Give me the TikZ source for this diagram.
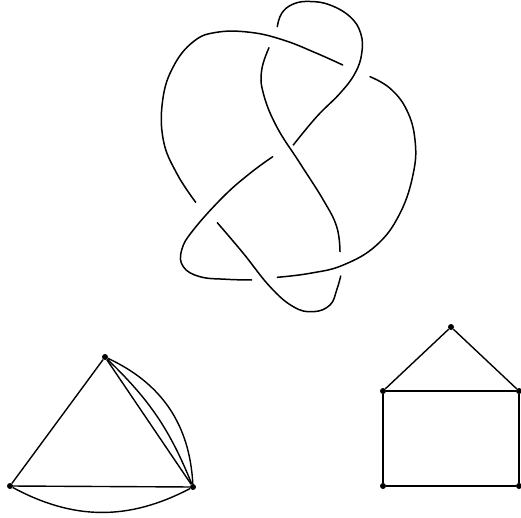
\documentclass[tikz,border=0pt]{standalone}
\begin{document}
\begin{tikzpicture}[x=1pt,y=-1pt,
  strand/.style={line width=1.5pt,line cap=round},
  vtx/.style={circle,fill=black,inner sep=0pt,minimum size=6pt},
  edge/.style={line width=1.4pt}]
\useasboundingbox (0,0) rectangle (521,518);
% knot
\draw[strand] plot[smooth,tension=0.7] coordinates {(277.3,26.7) (281.7,13.3) (293.3,4) (310,1.5) (330,5) (350,16.7) (360.7,33.3) (361.7,53.3) (355,73.3) (340,93.3) (316.7,116.7) (293.3,145)};
\draw[strand] plot[smooth,tension=0.7] coordinates {(272.7,156.7) (250,173.3) (223.3,196.7) (193.3,230) (181.7,250) (183.3,266.7) (200,276.7) (226.7,279.3) (251.7,280)};
\draw[strand] plot[smooth,tension=0.7] coordinates {(277.3,277.3) (310,273.3) (343.3,265) (376.7,245) (400,213.3) (413.3,173.3) (415,140) (406.7,110) (390,88.3) (370,76.7)};
\draw[strand] plot[smooth,tension=0.7] coordinates {(342.7,65) (316.7,53.3) (283.3,40) (250,32.3) (216.7,32.3) (193.3,41.7) (173.3,66.7) (162.7,100) (163.3,140) (176.7,173.3) (195.7,202.3)};
\draw[strand] plot[smooth,tension=0.7] coordinates {(217.3,222.7) (243.3,253.3) (270,286.7) (293.3,306.7) (313.3,311.7) (330,305) (336.7,290) (340.7,276)};
\draw[strand] plot[smooth,tension=0.7] coordinates {(340,251.7) (336.7,226.7) (323.3,200) (300,163.3) (276.7,126.7) (263.3,93.3) (261.7,70) (269,47.7)};
% graph 1
\node[vtx] (t) at (105,357) {};
\node[vtx] (l) at (10,486) {};
\node[vtx] (r) at (193,487) {};
\draw[edge] (t) -- (l);
\draw[edge] (t) -- (r);
\draw[edge] (l) -- (r);
\draw[edge] (t) to[bend left=12] (r);
\draw[edge] (t) to[bend left=31] (r);
\draw[edge] (l) to[bend right=28] (r);
% house
\node[vtx] (h1) at (451,327) {};
\node[vtx] (h2) at (383,391) {};
\node[vtx] (h3) at (519,391) {};
\node[vtx] (h4) at (383,486) {};
\node[vtx] (h5) at (519,486) {};
\draw[edge] (h1) -- (h2);
\draw[edge] (h1) -- (h3);
\draw[edge] (h2) -- (h3);
\draw[edge] (h2) -- (h4);
\draw[edge] (h3) -- (h5);
\draw[edge] (h4) -- (h5);
\end{tikzpicture}
\end{document}
